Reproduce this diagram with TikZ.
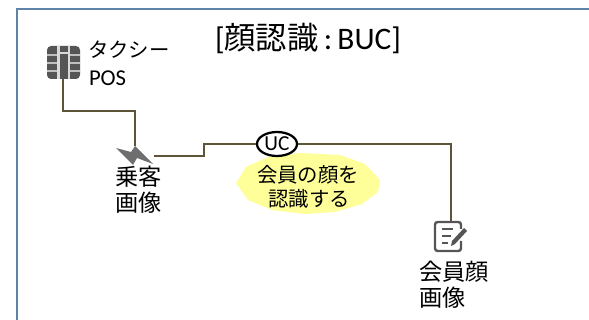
\documentclass[tikz,border=0pt]{standalone}
\usepackage{fontspec}
\usetikzlibrary{shapes.geometric}
\setmainfont{Carlito}
\newfontfamily\jpfont{Noto Sans CJK JP}
\definecolor{framec}{HTML}{5E82A8}
\definecolor{linkc}{HTML}{5C5438}
\definecolor{blobc}{HTML}{FFFF99}
\definecolor{iconc}{HTML}{555555}
\tikzset{
  lbl/.style={inner sep=0pt,outer sep=0pt,text=black},
  jp23/.style={lbl,font=\jpfont\fontsize{17.4pt}{17.4pt}\selectfont},
  jp20/.style={lbl,font=\jpfont\fontsize{15.3pt}{15.3pt}\selectfont},
  linkline/.style={draw=linkc,line width=1.1pt},
  anchorbox/.style={inner sep=0pt,outer sep=0pt,minimum width=#1,minimum height=#1},
}
\begin{document}
\begin{tikzpicture}[x=0.75pt,y=-0.75pt]
\useasboundingbox (0,0) rectangle (589,320);
% frame
\draw[framec,line width=1.5pt] (17,320) -- (17,9) -- (589,9);
% use case blob
\fill[blobc] (236,183) -- (246,167) -- (268,157) -- (300,153) -- (340,155) -- (365,164) -- (380,180)
  -- (378,192) -- (362,204) -- (335,212) -- (305,214) -- (272,210) -- (248,200) -- cycle;
% invisible anchors
\node[anchorbox=0pt] (posbottom) at (63,79) {};
\node[anchorbox=0pt] (bolttop) at (135,146) {};
\node[anchorbox=0pt] (boltright) at (154,156) {};
\node[anchorbox=0pt] (doctop) at (451,221) {};
\coordinate (bendone) at (63,111);
\coordinate (bendtwo) at (204,144);
% UC
\node[draw=black,line width=1.7pt,ellipse,minimum width=30pt,minimum height=18pt,inner sep=0pt,
  font=\fontsize{16pt}{16pt}\selectfont] (uc) at (277,144) {UC};
% connectors
\draw[linkline] (posbottom.center) -- (bendone) -| (bolttop.center);
\draw[linkline] (boltright.center) -| (bendtwo) -- (uc.west);
\draw[linkline] (uc.east) -| (doctop.center);
% POS chip icon
\fill[iconc,rounded corners=3pt] (47,46) rectangle (80,79);
\fill[white!85!black] (57,46) rectangle (60,79);
\fill[white!85!black] (68,46) rectangle (70,79);
\fill[white!85!black] (60,52) rectangle (68,54);
\foreach \yy in {54,62,70}{
  \fill[white!75!black] (47,\yy) rectangle (57,\yy+2);
  \fill[white!75!black] (70,\yy) rectangle (80,\yy+2);
}
% lightning
\fill[iconc!85!white] (116,148) -- (131,152) -- (135,146) -- (153,164) -- (137,158) -- (133,165) -- cycle;
% document icon
\draw[iconc,line width=1.8pt,rounded corners=2pt] (461,229) -- (461,222) -- (435,222) -- (435,251) -- (461,251) -- (461,241);
\draw[iconc,line width=1.3pt] (442,229) -- (453,229) (442,236) -- (451,236) (442,243) -- (448,243);
\fill[iconc] (464,228) -- (467,231) -- (455,244) -- (451,246) -- (452,241) -- cycle;
% labels
\node[lbl,font=\fontsize{23.5pt}{23.5pt}\selectfont] (title) at (308,38) {[{\jpfont 顔認識}\,:\,BUC]};
\node[jp20,anchor=west] (taxi) at (88,50) {タクシー};
\node[lbl,anchor=west,font=\fontsize{17pt}{17pt}\selectfont] (pos) at (89,78) {POS};
\node[jp23] (boardone) at (138.5,177) {乗客};
\node[jp23] (boardtwo) at (138.5,203) {画像};
\node[jp20] (ucone) at (308,175) {会員の顔を};
\node[jp20] (uctwo) at (309,199) {認識する};
\node[jp23,anchor=west] (memone) at (419,272) {会員顔};
\node[jp23,anchor=west] (memtwo) at (419,298) {画像};
\end{tikzpicture}
\end{document}
